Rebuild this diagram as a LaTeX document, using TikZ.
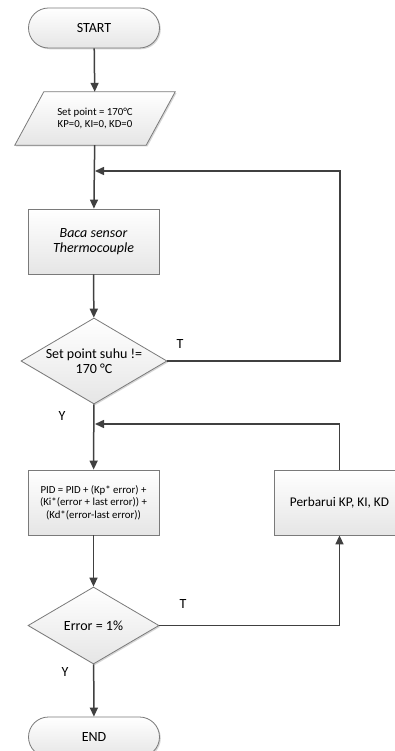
\documentclass[tikz,border=0pt]{standalone}
\usepackage{fontspec}
\setmainfont{Carlito}
\usetikzlibrary{shapes.geometric,shapes.misc,shadows,arrows.meta,backgrounds}
\definecolor{ln}{HTML}{404040}
\definecolor{bd}{HTML}{7A7A7A}
\begin{document}
\begin{tikzpicture}[x=1pt,y=-1pt,
  boxlook/.style={draw=bd, line width=0.8pt, top color=white, bottom color=gray!20,
    drop shadow={shadow xshift=1.3pt, shadow yshift=-1.3pt, fill=gray!45, opacity=0.7}},
  box/.style={boxlook, align=center, inner sep=0pt},
  big/.style={font=\fontsize{14}{14.5}\selectfont},
  bigit/.style={font=\fontsize{14}{14.5}\selectfont\itshape},
  small/.style={font=\fontsize{10.8}{12.3}\selectfont},
  term/.style={box, big, rounded rectangle, minimum width=131, minimum height=40},
  proc/.style={box, rectangle, minimum width=131, minimum height=65},
  dec/.style={box, diamond, minimum width=146, minimum height=86},
  conn/.style={draw=ln, line width=1.5pt},
  arr/.style={conn, -{Triangle[length=9pt,width=8pt]}},
  lab/.style={big, text=black}
]
\useasboundingbox (0,0) rectangle (395,751);

\node[term] (start) at (94,28) {START};
\node[small, align=center, minimum width=131, minimum height=53, inner sep=0pt] (inp) at (95,118.5) {Set point = 170°C\\KP=0, KI=0, KD=0};
\node[proc, bigit] (baca) at (93.5,241.5) {Baca sensor\\Thermocouple};
\node[dec, label={[big, align=center]center:Set point suhu !=\\170 °C}] (d1) at (94,361) {};
\node[proc, small] (pid) at (93.5,502.5) {PID = PID + (Kp* error) +\\(Ki*(error + last error)) +\\(Kd*(error-last error))};
\node[proc, font=\fontsize{13.3}{14}\selectfont] (upd) at (339.5,502.5) {Perbarui KP, KI, KD};
\node[dec, minimum width=131, minimum height=77, label={[big]center:Error = 1\%}] (d2) at (93.5,625.5) {};
\node[term] (end) at (94,737) {END};

\begin{scope}[on background layer]
\fill[white] (0,0) rectangle (395,751);
\path[boxlook] ([xshift=14.5pt]inp.north west) -- ([xshift=14.5pt]inp.north east)
  -- ([xshift=-14.5pt]inp.south east) -- ([xshift=-14.5pt]inp.south west) -- cycle;
\end{scope}

\coordinate (j1) at (95,171);
\coordinate (j2) at (95,424);
\coordinate (c1) at (340,171);

\draw[arr] (start) -- (inp);
\draw[arr] (inp) -- (baca);
\draw[arr] (baca) -- (d1);
\draw[arr] (d1.east) -| (c1) -- (j1);
\draw[arr] (d1) -- (pid);
\draw[arr] (upd.north) |- (j2);
\draw[arr] (pid) -- (d2);
\draw[arr] (d2.east) -| (upd.south);
\draw[arr] (d2) -- (end);

\node[lab] (t1) at (180,344) {T};
\node[lab] (y1) at (62,416) {Y};
\node[lab] (t2) at (183,604) {T};
\node[lab] (y2) at (65,672) {Y};
\end{tikzpicture}
\end{document}
